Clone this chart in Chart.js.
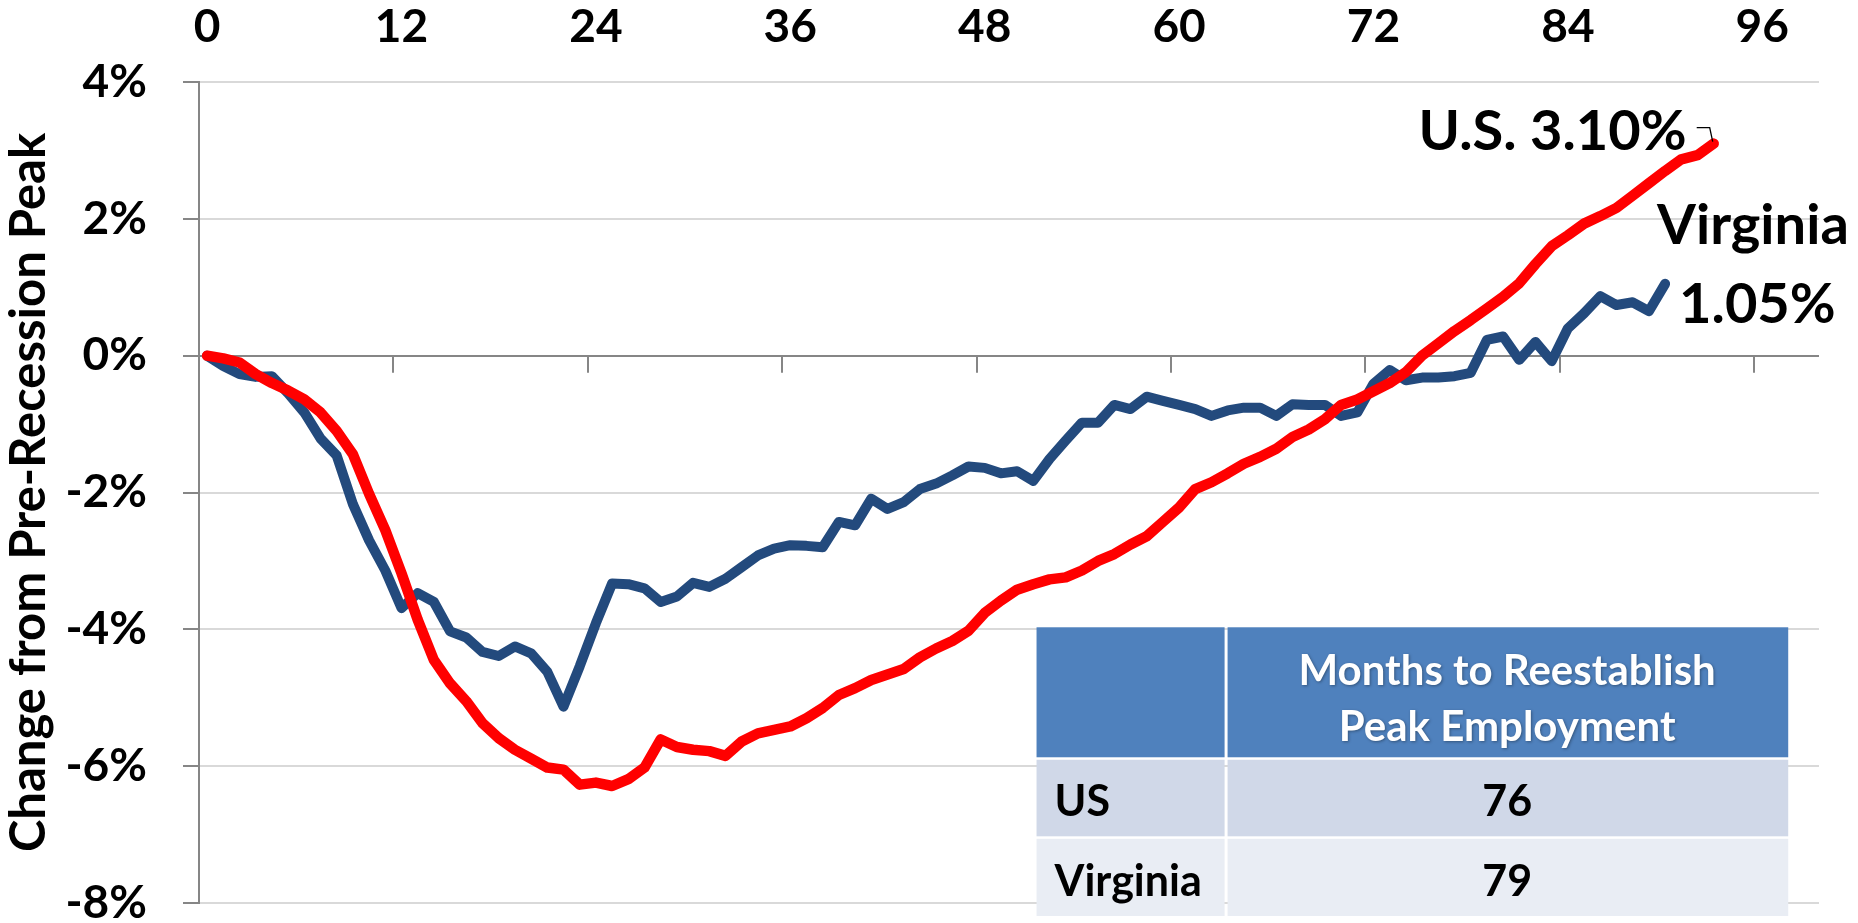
<!DOCTYPE html>
<html>
<head>
<meta charset="utf-8">
<title>Employment change from pre-recession peak</title>
<script src="https://cdn.jsdelivr.net/npm/chart.js@4.4.1/dist/chart.umd.min.js"></script>
<style>
  html, body { margin: 0; padding: 0; background: #ffffff; }
</style>
</head>
<body>
<canvas id="chart" width="1858" height="923"></canvas>
<script>
// % change in employment from pre-recession peak, by month since the peak
var usChange = [
  0.00, -0.04, -0.10, -0.27, -0.40, -0.51, -0.64, -0.83, -1.10, -1.44,
  -2.02, -2.55, -3.18, -3.86, -4.45, -4.79, -5.05, -5.37, -5.59, -5.76,
  -5.89, -6.02, -6.05, -6.27, -6.24, -6.29, -6.19, -6.02, -5.61, -5.72,
  -5.76, -5.78, -5.85, -5.64, -5.52, -5.47, -5.42, -5.30, -5.15, -4.96,
  -4.86, -4.74, -4.66, -4.58, -4.41, -4.28, -4.17, -4.02, -3.76, -3.58,
  -3.42, -3.34, -3.27, -3.24, -3.14, -3.00, -2.90, -2.76, -2.64, -2.43,
  -2.22, -1.95, -1.85, -1.72, -1.58, -1.48, -1.36, -1.19, -1.08, -0.93,
  -0.72, -0.64, -0.52, -0.40, -0.24, 0.00, 0.18, 0.36, 0.52, 0.69,
  0.86, 1.06, 1.34, 1.60, 1.76, 1.93, 2.04, 2.16, 2.34, 2.52,
  2.70, 2.87, 2.93, 3.10
];
var vaChange = [
  0.00, -0.15, -0.27, -0.31, -0.30, -0.55, -0.83, -1.21, -1.46, -2.17,
  -2.70, -3.14, -3.69, -3.47, -3.60, -4.03, -4.12, -4.33, -4.39, -4.25,
  -4.35, -4.62, -5.13, -4.54, -3.91, -3.33, -3.34, -3.40, -3.60, -3.52,
  -3.32, -3.38, -3.26, -3.09, -2.92, -2.82, -2.77, -2.78, -2.80, -2.43,
  -2.48, -2.09, -2.24, -2.14, -1.95, -1.87, -1.75, -1.62, -1.64, -1.72,
  -1.69, -1.83, -1.51, -1.24, -0.98, -0.98, -0.72, -0.78, -0.60, -0.66,
  -0.72, -0.78, -0.88, -0.80, -0.76, -0.76, -0.88, -0.71, -0.72, -0.72,
  -0.88, -0.83, -0.41, -0.21, -0.36, -0.32, -0.32, -0.30, -0.25, 0.23,
  0.28, -0.06, 0.20, -0.08, 0.40, 0.62, 0.87, 0.74, 0.78, 0.65,
  1.05
];
var monthTicks = [0, 12, 24, 36, 48, 60, 72, 84, 96];
var pctTicks = [-8, -6, -4, -2, 0, 2, 4];
var seriesNames = ['U.S.', 'Virginia'];
var tableHeader = ['Months to Reestablish', 'Peak Employment'];
var tableRows = ['US', 'Virginia'];
var monthsToPeak = [76, 79];

Chart.defaults.font.family = "Lato";
Chart.defaults.color = "#000000";

var axisGray = '#868686';
var gridGray = '#d9d9d9';

function toPoints(arr) {
  return arr.map(function (v, i) { return { x: i, y: v }; });
}

// small tick marks hanging under the 0% line, between months
var zeroTicks = {
  id: 'zeroTicks',
  beforeDatasetsDraw: function (chart) {
    var c = chart.ctx, xs = chart.scales.x, ys = chart.scales.y;
    var y0 = ys.getPixelForValue(0);
    c.save();
    c.strokeStyle = axisGray;
    c.lineWidth = 2;
    monthTicks.forEach(function (m) {
      if (m === 0) return;
      var px = Math.round(xs.getPixelForValue(m - 0.5));
      c.beginPath();
      c.moveTo(px, y0);
      c.lineTo(px, y0 + 17);
      c.stroke();
    });
    c.restore();
  }
};

// end-of-line labels
var endLabels = {
  id: 'endLabels',
  afterDatasetsDraw: function (chart) {
    var c = chart.ctx;
    var us = chart.getDatasetMeta(0).data;
    var va = chart.getDatasetMeta(1).data;
    var ue = us[us.length - 1], ve = va[va.length - 1];
    c.save();
    c.fillStyle = '#000';
    c.font = 'bold 56px Lato';
    c.textBaseline = 'alphabetic';
    c.textAlign = 'right';
    c.fillText(seriesNames[0] + ' ' + usChange[usChange.length - 1].toFixed(2) + '%', ue.x - 27, ue.y + 6);
    c.strokeStyle = '#000';
    c.lineWidth = 1.3;
    c.beginPath();
    c.moveTo(ue.x - 17, ue.y - 16);
    c.lineTo(ue.x - 4, ue.y - 16);
    c.lineTo(ue.x - 1, ue.y - 2);
    c.stroke();
    c.textAlign = 'left';
    c.fillText(seriesNames[1], ve.x - 8, ve.y - 40);
    c.fillText(vaChange[vaChange.length - 1].toFixed(2) + '%', ve.x + 14, ve.y + 39);
    c.restore();
  }
};

// the little summary table in the lower right
var peakTable = {
  id: 'peakTable',
  afterDraw: function (chart) {
    var c = chart.ctx, xs = chart.scales.x, ys = chart.scales.y;
    var left = xs.getPixelForValue(51.2), split = xs.getPixelForValue(62.9), right = xs.getPixelForValue(97.6);
    var top = ys.getPixelForValue(-3.97), headB = ys.getPixelForValue(-5.87);
    var r1B = ys.getPixelForValue(-7.04), bottom = ys.getPixelForValue(-8.19);
    c.save();
    c.fillStyle = '#4f81bd';
    c.fillRect(left, top, split - left - 1.5, headB - top);
    c.fillRect(split + 1.5, top, right - split - 1.5, headB - top);
    c.fillStyle = '#d0d8e8';
    c.fillRect(left, headB + 2.5, split - left - 1.5, r1B - headB - 3.5);
    c.fillRect(split + 1.5, headB + 2.5, right - split - 1.5, r1B - headB - 3.5);
    c.fillStyle = '#e9edf4';
    c.fillRect(left, r1B + 1.5, split - left - 1.5, bottom - r1B - 1.5);
    c.fillRect(split + 1.5, r1B + 1.5, right - split - 1.5, bottom - r1B - 1.5);

    var cx = (split + right) / 2;
    c.textBaseline = 'middle';
    c.textAlign = 'center';
    c.fillStyle = '#ffffff';
    c.shadowColor = 'rgba(0,0,0,0.35)';
    c.shadowBlur = 3;
    c.shadowOffsetX = 1;
    c.shadowOffsetY = 1;
    c.font = 'bold 42px Lato';
    c.fillText(tableHeader[0], cx, top + 44);
    c.fillText(tableHeader[1], cx, top + 100);
    c.shadowColor = 'rgba(0,0,0,0)';
    c.shadowBlur = 0;
    c.shadowOffsetX = 0;
    c.shadowOffsetY = 0;

    c.fillStyle = '#000';
    c.font = 'bold 43px Lato';
    var rowMid = [(headB + r1B) / 2 + 5, (r1B + bottom) / 2 + 5];
    tableRows.forEach(function (name, i) {
      c.textAlign = 'left';
      c.fillText(name, left + 18, rowMid[i]);
      c.textAlign = 'center';
      c.fillText(String(monthsToPeak[i]), cx, rowMid[i]);
    });
    c.restore();
  }
};

var ctx = document.getElementById('chart').getContext('2d');
var chart = new Chart(ctx, {
  type: 'line',
  data: {
    datasets: [{
      label: seriesNames[0],
      data: toPoints(usChange),
      borderColor: '#ff0000',
      borderWidth: 10.5,
      borderCapStyle: 'round',
      borderJoinStyle: 'round',
      pointRadius: 0,
      fill: false,
      tension: 0
    }, {
      label: seriesNames[1],
      data: toPoints(vaChange),
      borderColor: '#234a7d',
      borderWidth: 10,
      borderCapStyle: 'round',
      borderJoinStyle: 'round',
      pointRadius: 0,
      fill: false,
      tension: 0
    }]
  },
  options: {
    responsive: false,
    animation: false,
    layout: { padding: { top: 0, right: 39, bottom: 20, left: 0 } },
    plugins: {
      legend: { display: false },
      tooltip: { enabled: false }
    },
    scales: {
      x: {
        type: 'linear',
        position: 'top',
        min: -0.5,
        max: 99.5,
        afterBuildTicks: function (scale) {
          scale.ticks = monthTicks.map(function (v) { return { value: v }; });
        },
        afterFit: function (scale) { scale.height = 82; },
        grid: { display: false, drawTicks: false },
        border: { display: false },
        ticks: {
          font: { size: 46, weight: 'bold' },
          color: '#000',
          padding: 27,
          maxRotation: 0,
          autoSkip: false
        }
      },
      y: {
        min: -8,
        max: 4,
        afterBuildTicks: function (scale) {
          scale.ticks = pctTicks.map(function (v) { return { value: v }; });
        },
        afterFit: function (scale) {
          scale.width = 199;
          scale.paddingTop = 0;
          scale.paddingBottom = 0;
        },
        grid: {
          color: function (c) { return c.tick && c.tick.value === 0 ? axisGray : gridGray; },
          lineWidth: 2,
          tickColor: axisGray,
          tickLength: 16,
          tickWidth: 2
        },
        border: { color: axisGray, width: 2 },
        ticks: {
          font: { size: 46, weight: 'bold' },
          color: '#000',
          padding: 36,
          callback: function (v) { return v + '%'; }
        },
        title: {
          display: true,
          text: 'Change from Pre-Recession Peak',
          font: { size: 49, weight: 'bold' },
          color: '#000',
          padding: { top: 0, bottom: 0 }
        }
      }
    }
  },
  plugins: [zeroTicks, endLabels, peakTable]
});
</script>
</body>
</html>
